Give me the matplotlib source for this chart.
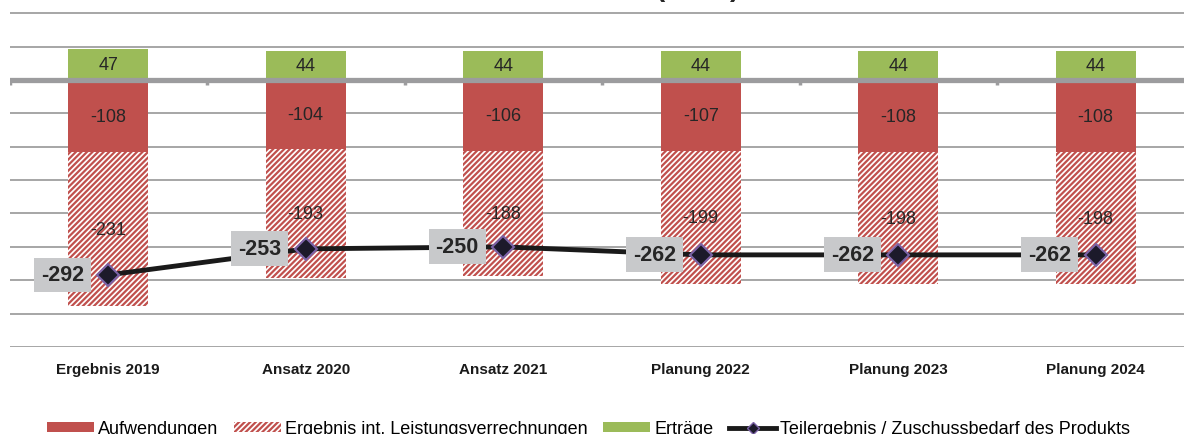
import numpy as np
import matplotlib.pyplot as plt
from matplotlib.patches import Patch
from matplotlib.lines import Line2D

plt.rcParams['font.family'] = ['Liberation Sans', 'DejaVu Sans']
plt.rcParams['hatch.linewidth'] = 1.6

# Daten (in T€)
kategorien = ['Ergebnis 2019', 'Ansatz 2020', 'Ansatz 2021',
              'Planung 2022', 'Planung 2023', 'Planung 2024']
ertraege = [47, 44, 44, 44, 44, 44]
aufwendungen = [-108, -104, -106, -107, -108, -108]
ilv = [-231, -193, -188, -199, -198, -198]
teilergebnis = [-292, -253, -250, -262, -262, -262]

rot = '#C0504D'
gruen = '#9BBB59'
grau = '#A6A6A6'
schraffur = '//////'

fig = plt.figure(figsize=(11.84, 4.35), dpi=100)
ax = fig.add_axes([9.5 / 1184, 1 - 348 / 435, 1185 / 1184, 348 / 435])

x = np.arange(len(kategorien))
breite = 0.405

# Balken
ax.bar(x, ertraege, breite, color=gruen, zorder=2)
ax.bar(x, aufwendungen, breite, color=rot, zorder=2)
ax.bar(x, ilv, breite, bottom=aufwendungen, facecolor='white',
       edgecolor=rot, hatch=schraffur, linewidth=0, zorder=2)

# Datenbeschriftungen in den Balken
for i in range(len(x)):
    ax.text(x[i], ertraege[i] / 2, str(ertraege[i]), ha='center', va='center',
            fontsize=13, color='#262626', zorder=5)
    ax.text(x[i], aufwendungen[i] / 2, str(aufwendungen[i]), ha='center',
            va='center', fontsize=13, color='#262626', zorder=5)
    ax.text(x[i], aufwendungen[i] + ilv[i] / 2, str(ilv[i]), ha='center',
            va='center', fontsize=13, color='#262626', zorder=5)

# Linie Teilergebnis
ax.plot(x, teilergebnis, color='#1A1A1A', lw=3.5, marker='D', ms=11,
        markerfacecolor='#1C1A2A', markeredgecolor='#7B62A6',
        markeredgewidth=1.5, zorder=6)
for i in range(len(x)):
    ax.annotate(str(teilergebnis[i]), xy=(x[i], teilergebnis[i]),
                xytext=(-46, 0), textcoords='offset pixels',
                ha='center', va='center', fontsize=15.5, fontweight='bold',
                color='#262626', zorder=7,
                bbox=dict(boxstyle='square,pad=0.32', facecolor='#C8C9CB',
                          edgecolor='none'))

# Achsen und Gitter
ax.set_xlim(-0.5, len(x) - 0.5)
ax.set_ylim(-400, 121.3)
ax.set_yticks(np.arange(-400, 101, 50))
ax.yaxis.grid(True, color=grau, lw=1.4, zorder=0)
ax.set_axisbelow(True)
ax.tick_params(axis='y', left=False, labelleft=False)
ax.axhline(0, color='#9C9C9E', lw=3.8, zorder=4)
ax.vlines(np.arange(-0.5, len(x), 1.0), -8, 0, color='#9C9C9E', lw=2.5, zorder=4)
for s in ax.spines.values():
    s.set_visible(False)

ax.set_xticks(x)
ax.set_xticklabels(kategorien, fontsize=11, fontweight='bold', color='#1A1A1A')
ax.tick_params(axis='x', length=0, pad=11)

# Titel (oben abgeschnitten)
fig.text(0.589, 1 + 3.5 / 435, '(in T€)', ha='center', va='baseline',
         fontsize=20, fontweight='bold', color='#262626')

# Legende
handles = [
    Patch(facecolor=rot, edgecolor='none'),
    Patch(facecolor='white', edgecolor=rot, hatch=schraffur, linewidth=0),
    Patch(facecolor=gruen, edgecolor='none'),
    Line2D([0], [0], color='#1A1A1A', lw=3.5, marker='D', ms=6,
           markerfacecolor='#1C1A2A', markeredgecolor='#7B62A6'),
]
labels = ['Aufwendungen', 'Ergebnis int. Leistungsverrechnungen', 'Erträge',
          'Teilergebnis / Zuschussbedarf des Produkts']
fig.legend(handles, labels, loc='center', bbox_to_anchor=(0.497, 0.012),
           ncol=4, frameon=False, fontsize=13, handlelength=2.6,
           handleheight=0.5, handletextpad=0.2, columnspacing=0.9)

fig.savefig('out.png', dpi=100)
